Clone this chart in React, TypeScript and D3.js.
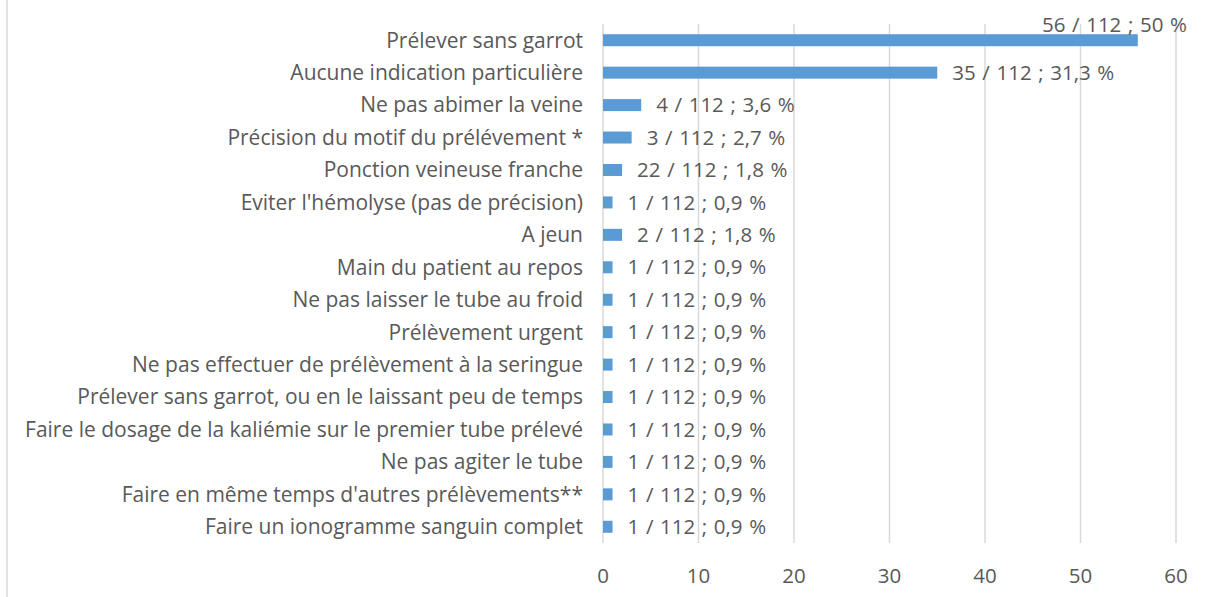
import React from "react";
import * as d3 from "d3";

const categories = [
  "Prélever sans garrot",
  "Aucune indication particulière",
  "Ne pas abimer la veine",
  "Précision du motif du prélévement *",
  "Ponction veineuse franche",
  "Eviter l'hémolyse (pas de précision)",
  "A jeun",
  "Main du patient au repos",
  "Ne pas laisser le tube au froid",
  "Prélèvement urgent",
  "Ne pas effectuer de prélèvement à la seringue",
  "Prélever sans garrot, ou en le laissant peu de temps",
  "Faire le dosage de la kaliémie sur le premier tube prélevé",
  "Ne pas agiter le tube",
  "Faire en même temps d'autres prélèvements**",
  "Faire un ionogramme sanguin complet",
];
const values = [56, 35, 4, 3, 2, 1, 2, 1, 1, 1, 1, 1, 1, 1, 1, 1];
const valueLabels = [
  "56 / 112 ; 50 %",
  "35 / 112 ; 31,3 %",
  "4 / 112 ; 3,6 %",
  "3 / 112 ; 2,7 %",
  "22 / 112 ; 1,8 %",
  "1 / 112 ; 0,9 %",
  "2 / 112 ; 1,8 %",
  "1 / 112 ; 0,9 %",
  "1 / 112 ; 0,9 %",
  "1 / 112 ; 0,9 %",
  "1 / 112 ; 0,9 %",
  "1 / 112 ; 0,9 %",
  "1 / 112 ; 0,9 %",
  "1 / 112 ; 0,9 %",
  "1 / 112 ; 0,9 %",
  "1 / 112 ; 0,9 %",
];
const xTicks = [0, 10, 20, 30, 40, 50, 60];

const W = 1206;
const H = 597;
const left = 603;
const right = 1176;
const top = 24;
const bottom = 543;
const FONT = "'Open Sans', sans-serif";
const TEXT = "#595959";
const BAR = "#5B9BD5";
const GRID = "#D9D9D9";

export default function App() {
  const x = d3.scaleLinear().domain([0, 60]).range([left, right]);
  const y = d3
    .scaleBand<string>()
    .domain(categories)
    .range([top, bottom])
    .paddingInner(0.63)
    .paddingOuter(0.315);
  const bw = y.bandwidth();
  return (
    <svg
      width={W}
      height={H}
      style={{ position: "absolute", left: 0, top: 0, background: "#fff" }}
      fontFamily={FONT}
    >
      <line x1={7} x2={7} y1={0} y2={H} stroke={GRID} strokeWidth={1.5} />
      {xTicks.map((t) => (
        <line
          key={"g" + t}
          x1={x(t)}
          x2={x(t)}
          y1={top}
          y2={bottom}
          stroke={GRID}
          strokeWidth={1.5}
        />
      ))}
      {categories.map((c, i) => {
        const yc = (y(c) as number) + bw / 2;
        const xv = x(values[i]);
        const fits = xv + 180 < right;
        return (
          <g key={c}>
            <rect x={x(0)} y={y(c)} width={xv - x(0)} height={bw} fill={BAR} />
            <text
              x={left - 20}
              y={yc}
              dy="0.35em"
              textAnchor="end"
              fontSize={21}
              fill={TEXT}
            >
              {c}
            </text>
            {fits ? (
              <text
                x={xv + 15}
                y={yc}
                dy="0.35em"
                fontSize={20.5}
                wordSpacing={1.3}
                fill={TEXT}
              >
                {valueLabels[i]}
              </text>
            ) : (
              <text
                x={right + 11}
                y={yc - 15}
                dy="0.35em"
                textAnchor="end"
                fontSize={20.5}
                wordSpacing={1.3}
                fill={TEXT}
              >
                {valueLabels[i]}
              </text>
            )}
          </g>
        );
      })}
      {xTicks.map((t) => (
        <text
          key={"t" + t}
          x={x(t)}
          y={576}
          dy="0.35em"
          textAnchor="middle"
          fontSize={20.5}
          fill={TEXT}
        >
          {t}
        </text>
      ))}
    </svg>
  );
}
